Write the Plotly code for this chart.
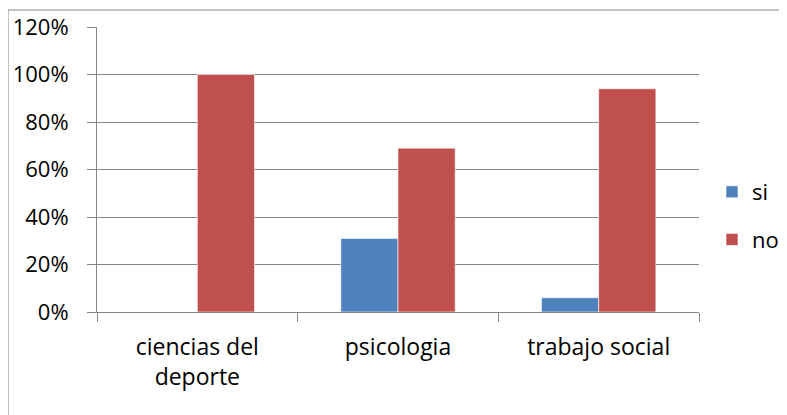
import plotly.graph_objects as go

categories = ["ciencias del<br>deporte", "psicologia", "trabajo social"]
si_values = [0.0, 0.31, 0.06]
no_values = [1.00, 0.69, 0.94]
series_names = ["si", "no"]
colors = ["#4F81BD", "#C0504D"]

FONT = "Open Sans"
OFF = 8  # default page body margin
W, H = 787 - OFF, 415 - OFF
L, T = 97 - OFF, 27 - OFF
R = W - (699 - OFF)
B = H - (312 - OFF)
pw = W - L - R
ph = H - T - B

fig = go.Figure()
for name, vals, col in zip(series_names, [si_values, no_values], colors):
    fig.add_trace(go.Bar(
        x=categories, y=vals, name=name, legendgroup=name,
        marker=dict(color=col, line=dict(color="rgba(255,255,255,0.6)", width=1)),
    ))

fig.update_layout(
    width=W, height=H,
    margin=dict(l=L, r=R, t=T, b=B, pad=0, autoexpand=False),
    paper_bgcolor="white", plot_bgcolor="white",
    barmode="group", bargap=0.43, bargroupgap=0,
    font=dict(family=FONT, size=22, color="black"),
    showlegend=True,
    legend=dict(x=(712 - L - OFF) / pw, y=(312 - 216) / ph, xanchor="left", yanchor="middle",
                font=dict(size=22, family=FONT), itemwidth=30, tracegroupgap=16,
                traceorder="grouped", bgcolor="rgba(0,0,0,0)"),
    shapes=[dict(type="rect", xref="paper", yref="paper",
                 x0=(8 - OFF - L) / pw, x1=(W + 20 - L) / pw,
                 y0=(312 - 440) / ph, y1=(312 - 10) / ph,
                 line=dict(color="#868686", width=1), layer="below")],
)
fig.update_yaxes(range=[0, 1.2], dtick=0.2, tickformat=".0%",
                 showgrid=True, gridcolor="#868686", gridwidth=1,
                 showline=True, linecolor="#868686", linewidth=1,
                 ticks="outside", ticklen=9, tickcolor="#868686",
                 zeroline=False, automargin=False, ticklabelstandoff=14,
                 tickfont=dict(size=22, family=FONT))
fig.update_xaxes(showline=True, linecolor="#868686", linewidth=1,
                 ticks="outside", ticklen=9, tickcolor="#868686",
                 tickson="boundaries", showgrid=False, automargin=False,
                 ticklabelstandoff=14,
                 tickfont=dict(size=23, family=FONT))

fig.write_html("out.html")
